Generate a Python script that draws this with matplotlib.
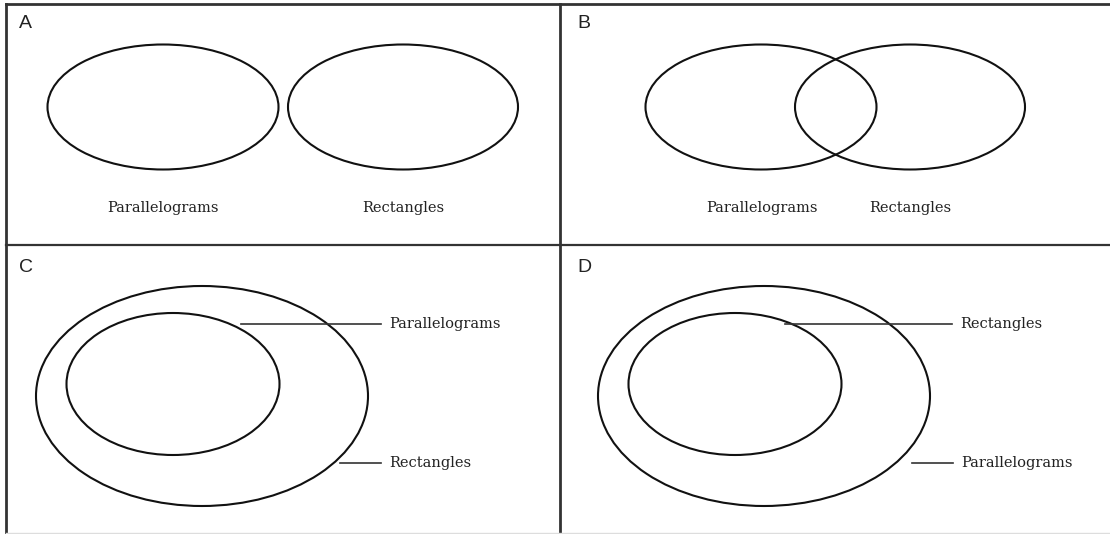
import matplotlib
matplotlib.use("Agg")
import matplotlib.pyplot as plt
from matplotlib.patches import Ellipse

# panel letters and the set names
panel_names = ["A", "B", "C", "D"]
set_names = ["Parallelograms", "Rectangles"]

# ellipses per panel: (cx, cy, width, height) in pixel units of the sheet
ellipses_a = [(163, 107, 231, 125), (403, 107, 230, 125)]
ellipses_b = [(761, 107, 231, 125), (910, 107, 230, 125)]
ellipses_c = [(202, 396, 332, 220), (173, 384, 213, 142)]
ellipses_d = [(764, 396, 332, 220), (735, 384, 213, 142)]

# labels under panels A and B: (x, y, text index)
labels_ab = [(163, 208, 0), (403, 208, 1), (762, 208, 0), (910, 208, 1)]

# pointer lines in C and D: (x0, x1, y, text index)
pointers_c = [(241, 381, 324, 0), (340, 381, 463, 1)]
pointers_d = [(785, 952, 324, 1), (912, 953, 463, 0)]

fig = plt.figure(figsize=(11.10, 5.34), dpi=100)
ax = fig.add_axes([0, 0, 1, 1])
ax.set_xlim(0, 1110)
ax.set_ylim(534, 0)
ax.axis("off")

# frame of the 2x2 grid
frame_col = "#333333"
ax.plot([6, 1110], [4, 4], color=frame_col, lw=2)
ax.plot([6, 6], [4, 534], color=frame_col, lw=2)
ax.plot([560, 560], [4, 534], color=frame_col, lw=2)
ax.plot([6, 1110], [245, 245], color=frame_col, lw=1.6)
ax.plot([6, 1110], [533, 533], color="#dddddd", lw=1)

# panel letters
letter_pos = [(19, 24), (577, 24), (19, 268), (577, 268)]
for (x, y), name in zip(letter_pos, panel_names):
    ax.text(x, y, name, fontsize=14, family="Liberation Sans", color="#222222",
            ha="left", va="center")

for cx, cy, w, h in ellipses_a + ellipses_b + ellipses_c + ellipses_d:
    ax.add_patch(Ellipse((cx, cy), w, h, fill=False, ec="#111111", lw=1.5))

serif = "DejaVu Serif"
for x, y, i in labels_ab:
    ax.text(x, y, set_names[i], fontsize=10.5, family=serif, color="#222222",
            ha="center", va="center")

for x0, x1, y, i in pointers_c + pointers_d:
    ax.plot([x0, x1], [y, y], color="#333333", lw=1.2)
    ax.text(x1 + 8, y, set_names[i], fontsize=10.5, family=serif, color="#222222",
            ha="left", va="center")

fig.savefig("out.png", dpi=100)
